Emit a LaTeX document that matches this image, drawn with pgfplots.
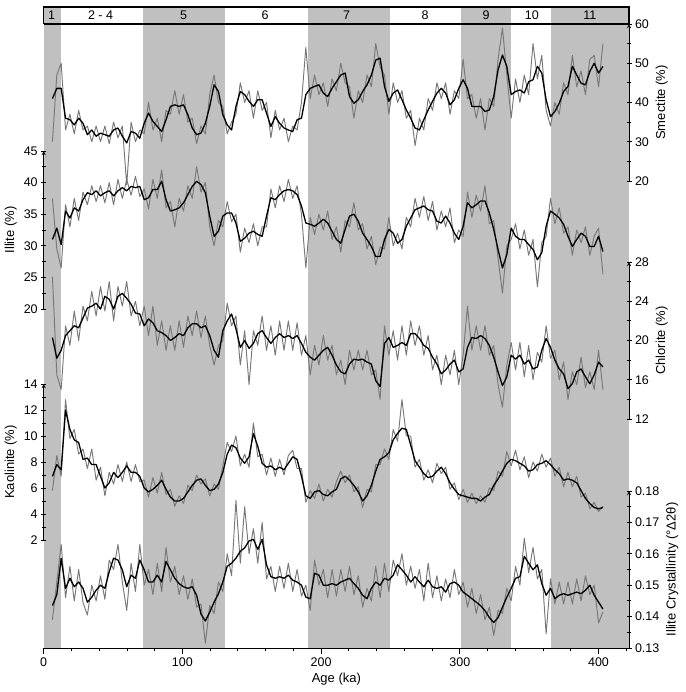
\documentclass[border=0pt]{standalone}
\usepackage{fontspec}
\setmainfont{Liberation Sans}
\usepackage{pgfplots}
\usepackage{pgfplotstable}
\pgfplotsset{compat=1.18}

\definecolor{band}{RGB}{192,192,192}
\definecolor{rawgray}{RGB}{120,120,120}

% age, smectite, illite, chlorite, kaolinite, crystallinity (smoothed + raw)
\pgfplotstableread{
x sm smr il ilr ch chr ka kar cr crr
6.3 41 30 31 37.5 20.3 26.5 6.9 5.8 0.1435 0.139
9.45 43.6 47 32.8 29.5 18.2 16.5 7.8 8.5 0.147 0.151
12.6 43.6 50 30.2 26.5 19 15 7.4 6.9 0.1585 0.163
15.75 36 33 35.5 36.5 20.5 21.5 12 12.8 0.149 0.146
18.9 35.6 37 34.4 33 21 19.5 10.5 9.8 0.1522 0.156
22.05 34.3 32 36 37.5 21.5 23 9.7 10.5 0.1495 0.145
25.2 36 38 35.5 34 21.3 20 9.5 8.6 0.151 0.155
28.35 34.7 33 37.3 38.5 22.3 23.5 8.2 9 0.149 0.1445
31.5 31.8 34 38.4 36.5 23.3 22 8.3 7.5 0.1446 0.1405
34.65 33 30 38.1 39.5 23.5 25 7.8 9 0.1462 0.150
37.8 31.4 34 38.7 37 23.8 22.5 7.8 6.6 0.1484 0.145
40.95 32.2 30 37.9 39.5 23.2 25.5 6.9 7.6 0.15 0.153
44.1 31.8 34 38.4 36.8 24.5 23 6.0 5.4 0.149 0.1455
47.25 31.4 29.5 38.7 40 24.2 26 6.4 7.2 0.1543 0.158
50.4 33 35 37.9 36.5 23.2 22 7.2 6.3 0.1586 0.155
53.55 33.5 31 38.7 40.5 24.5 25.5 6.8 7.8 0.158 0.163
56.7 31.4 34 39.2 37.5 24.8 23.5 7.2 6.5 0.1549 0.151
59.85 29.7 19 38.7 40.5 24.3 26 7.7 8 0.1495 0.142
63.0 32.6 35 39.4 38 23.7 22.5 7.2 6.5 0.1532 0.157
66.15 32.2 30 39.2 41 22.8 24 7.2 7.8 0.1522 0.148
69.3 30.9 33 39.4 37.8 22.7 21.5 6.9 6.5 0.158 0.163
72.45 34.7 32 37.3 39 21.5 23.5 6.0 6.6 0.1549 0.150
75.6 37.3 40 37.6 35.8 22.2 20.5 5.7 5.3 0.151 0.155
78.75 35.2 33 38.9 40.5 21.8 23.5 5.9 6.8 0.151 0.147
81.9 33.9 36 38.9 37.5 21 19.5 6.2 5.6 0.1532 0.157
85.05 32.6 30 40.2 42 20.8 22 6.6 7.2 0.151 0.148
88.2 35.6 38 37.3 36 20.5 19 5.9 5.5 0.1576 0.162
91.35 39 37 35.5 37 20 21.5 5.3 5.9 0.1549 0.151
94.5 39.4 43 35.7 33 20.3 19 5.0 4.6 0.1522 0.156
97.65 39 37 36 37.5 20.7 22 5.0 5.4 0.1505 0.147
100.8 39.4 42 36.8 35.5 20.5 19.3 5.2 4.8 0.1495 0.153
103.95 36.9 35 38.1 39.5 21.3 22.5 5.7 6.2 0.149 0.1455
107.1 33.5 36 39.4 37.5 21.7 20.5 6.2 5.8 0.1495 0.152
110.25 31.8 29.5 40.2 42.5 21.7 23 6.6 7 0.1468 0.143
113.4 32.2 34 39.7 38.5 21.3 20.3 6.7 6.3 0.1408 0.144
116.55 34.7 32 38.4 40 21.5 22.5 6.2 6.7 0.1386 0.1315
119.7 39 42 34.7 33 20.5 19.5 5.8 5.4 0.1414 0.1435
122.85 44.5 47 31.5 30 19 17.5 5.9 6.3 0.1446 0.141
126.0 42.8 40 32.3 34 18.3 19.5 6.3 5.9 0.1473 0.151
129.15 36.9 39 34.7 33 21 20 7.2 7.7 0.151 0.148
132.3 34.3 32 35.2 37 22 23.8 8.6 9.5 0.156 0.160
135.45 33 35 35.2 33.8 22.7 21.5 9.3 8.8 0.157 0.153
138.6 39 37 33.6 35 21.2 22.5 9.1 10 0.1586 0.177
141.75 42.8 45 30.7 29 19.3 17.5 8.3 7.7 0.1608 0.157
144.9 42 40 31.2 32.8 20 21 7.9 8.6 0.1619 0.175
148.05 40.3 43 32 30.5 19.2 15.5 8.4 7.6 0.1641 0.160
151.2 39 36 32.3 33.5 19.7 21 10.2 11 0.1646 0.168
154.35 40.7 43 31.8 30 20.7 19.5 9.2 8.4 0.1614 0.157
157.5 40.7 38 31.5 33 21 22.5 7.9 8.6 0.1646 0.170
160.65 37.3 40 34.7 33 20.3 19 7.6 7 0.1565 0.152
163.8 33.9 31 37.6 39 19.7 21.5 7.7 8.3 0.1527 0.156
166.95 36.4 38 37.3 36 20.3 18.5 7.4 6.9 0.1522 0.148
170.1 34.7 33 38.1 39.5 20.7 22 7.6 8.2 0.1527 0.156
173.25 33.5 36 38.7 37 20.3 19 7.4 7 0.1522 0.149
176.4 33 30 38.9 40.5 20.5 22 7.9 8.5 0.1532 0.157
179.55 32.6 34 38.7 37.5 20.2 19 8.4 8.9 0.1516 0.148
182.7 35.6 33 38.1 39.5 20.5 21.8 8.2 7.5 0.151 0.155
185.85 36 40 36.3 35 19.7 18.5 6.9 7.5 0.15 0.1465
189.0 42 54 33.6 26.5 18.8 20.5 5.4 4.9 0.1462 0.150
192.15 43.6 41 33.4 34.5 18.3 16.5 5.2 5.8 0.1457 0.142
195.3 44.1 47 33.1 31.8 18 19.5 5.7 5.2 0.1538 0.158
198.45 44.5 42 33.6 35 18.5 17.5 5.8 6.3 0.1532 0.150
201.6 42.4 45 34.2 32.5 19 20.5 5.5 5 0.15 0.155
204.75 41.5 39 33.6 35.5 19.3 18 5.4 5.9 0.15 0.146
207.9 43.6 46 32.3 31 18.5 19.5 5.7 5.3 0.1505 0.155
211.05 45.3 43 31 33 17.5 16.5 5.9 6.5 0.15 0.1465
214.2 47 50 30.4 29 16.8 18 6.7 7.3 0.151 0.155
217.35 47.5 45 32.6 34 16.6 15.5 6.9 6.4 0.1516 0.148
220.5 41.5 44 34.7 33 17.6 19 6.6 7 0.1522 0.156
223.65 39.8 36 35 36.8 18.1 17 6.2 5.7 0.1505 0.147
226.8 40.7 43 33.9 32.5 18 19 5.7 6.1 0.149 0.153
229.95 42.8 40 32 33.5 18.1 17 5.0 4.5 0.1468 0.143
233.1 44.5 47 31 29.5 17.8 19 5.4 5.9 0.1457 0.149
236.25 47 44 29.9 31.5 17.6 16.5 6.2 5.7 0.149 0.145
239.4 50.8 55 28.3 27 15.9 17 7.3 7.8 0.151 0.156
242.55 51.3 49 28.3 29.8 15.3 14 8.2 7.8 0.15 0.146
245.7 44.1 47 31 29.5 19.7 21.5 8.4 9 0.1522 0.157
248.85 40.3 37 32.6 34.5 20.3 18.5 8.7 8.2 0.1516 0.148
252.0 42.4 45 32 30 19.3 21 9.7 10.5 0.1532 0.158
255.15 43.2 40 30.4 32 19.5 18 10.2 9.6 0.1565 0.153
258.3 40.7 43 31 29.5 19.8 21.5 10.6 12.8 0.1549 0.160
261.45 38.1 36 33.1 34.5 19.5 18.5 10.5 10 0.1532 0.150
264.6 36 38 34.4 33 20.7 22 9.3 10 0.151 0.156
267.75 33.5 29 35.7 37.5 20.7 19.5 8.1 7.6 0.1527 0.149
270.9 33 36 36 34.5 20.2 21.5 7.6 8.2 0.151 0.155
274.05 35.6 33 36.3 37.8 19.5 18.5 7.1 6.6 0.1495 0.145
277.2 38.1 41 35.7 34 19.2 20.5 6.8 7.4 0.1516 0.157
280.35 40.3 38 35.5 37 18.3 17 6.9 6.4 0.1495 0.146
283.5 42.4 45 33.9 32.5 17.6 18.5 7.3 7.9 0.149 0.153
286.65 43.6 41 33.6 35.5 16.6 15.5 7.6 7.1 0.1495 0.145
289.8 42.4 45 34.7 33 17 18.5 7.1 7.6 0.1478 0.152
292.95 39.4 37 33.6 36 17.6 16.5 6.4 5.9 0.1505 0.146
296.1 40.7 43 32 30.5 18 19 5.9 6.4 0.151 0.155
299.25 43.6 41 31 32.5 16.8 15.5 5.5 5.1 0.15 0.147
302.4 45.8 51 33.1 31.5 17.1 18.5 5.4 5.9 0.1478 0.151
305.55 43.6 41 36.8 38.5 19.3 23.5 5.3 4.9 0.1468 0.143
308.7 39 42 36 34.5 20.3 19 5.2 5.6 0.1457 0.149
311.85 39 36 36.5 38 20.2 21.5 5.2 4.8 0.1446 0.141
315.0 39 41 37.1 35.5 20.5 19 5.0 5.4 0.1435 0.147
318.15 37.7 33 37.1 39.5 20.2 21.5 5.3 4.9 0.1419 0.139
321.3 38.1 41 35.2 33.5 19.5 18.5 5.5 6 0.1397 0.143
324.45 41.5 39 32.6 34 18.3 19.5 6.2 5.8 0.1381 0.134
327.6 48.3 51 29.4 28 16.8 15.5 6.7 7.3 0.1397 0.142
330.75 52.1 59 26.5 22.5 15.4 13.2 7.3 6.9 0.143 0.141
333.9 49.2 47 28.6 30 16.3 17.5 7.9 8.8 0.1462 0.149
337.05 42 36 32.8 31 18.5 19.8 8.2 7.7 0.149 0.145
340.2 42.8 46 31.5 33.5 18.1 17 8.1 8.9 0.1522 0.156
343.35 43.2 40 31 29.5 18.5 19.8 7.9 7.4 0.1527 0.150
346.5 42.4 47 31 32.5 17.6 16.3 7.7 8.4 0.1592 0.165
349.65 45.3 42 30.2 28.5 18 19.5 7.3 6.8 0.157 0.154
352.8 45.8 55 29.4 31 17.1 16 7.4 8 0.1549 0.162
355.95 49.2 46 27.8 23.5 17.3 18.8 7.8 7.3 0.1565 0.152
359.1 47.5 52 28.9 30.5 19 17.8 7.9 8.6 0.1505 0.155
362.25 40.7 38 33.1 31.5 20.2 21.5 8.1 7.6 0.1468 0.1345
365.4 36.4 34 35.5 37.5 19.3 18.2 7.8 8.3 0.149 0.152
368.55 37.7 40 35 33.5 18 19 7.4 6.9 0.1457 0.144
371.7 39.8 37 34.4 36 17.1 16 7.1 7.6 0.1468 0.151
374.85 42.8 45 33.4 32 16.6 17.8 6.6 6.1 0.1473 0.144
378.0 44.1 42 31.5 33 15.1 14 6.7 7.2 0.1468 0.151
381.15 49.2 52 29.9 28.5 15.6 16.8 6.6 6.1 0.1473 0.144
384.3 47 44 31 32.5 16.8 15.5 6.4 6.9 0.1478 0.152
387.45 44.9 48 32 30.5 17.1 18.3 5.8 5.3 0.1473 0.145
390.6 44.5 42 31.5 33 16.3 15.2 5.2 5.6 0.1484 0.153
393.75 47.9 51 29.9 28.5 15.6 16.8 4.8 4.4 0.15 0.147
396.9 50 52 29.9 31.5 16.5 15 4.5 4.9 0.1468 0.150
400.05 47.5 44 31.5 32.8 17.8 19 4.4 4.2 0.1446 0.138
403.2 49.2 55 29.1 25.5 17.3 15 4.5 4.6 0.1424 0.1415
}\clay

\pgfplotsset{
  panel/.style={
    scale only axis, width=585.3pt,
    xmin=0, xmax=422, enlargelimits=false,
    axis x line=none, clip=false,
    axis line style={-, line width=0.9pt},
    tick style={black, line width=0.8pt},
    tick align=outside,
    major tick length=5pt, minor tick length=4pt,
    minor y tick num=1,
    ticklabel style={font=\fontsize{12.5}{14}\selectfont},
    /pgf/number format/assume math mode=true,
  },
  lbl/.style={ylabel style={font=\fontsize{13}{15}\selectfont}},
  rawline/.style={rawgray, line width=0.95pt, line join=round},
  meanline/.style={black, line width=1.3pt, line join=round},
}

\begin{document}
\begin{tikzpicture}
\useasboundingbox (0,0) rectangle (685pt,692pt);

% shading of the stages, top box and age axis
\begin{axis}[
  at={(43.7pt,44pt)}, anchor=south west,
  scale only axis, width=585.3pt, height=641pt,
  xmin=0, xmax=422, ymin=0, ymax=641, enlargelimits=false,
  axis y line=none, axis x line=bottom, clip=false,
  axis line style={-, line width=0.9pt},
  tick style={black, line width=0.8pt}, tick align=outside,
  xtick={0,100,200,300,400},
  minor xtick={20,40,60,80,120,140,160,180,220,240,260,280,320,340,360,380,420},
  major tick length=6pt, minor tick length=3.5pt,
  ticklabel style={font=\fontsize{12.5}{14}\selectfont},
  xlabel={Age (ka)}, xlabel style={font=\fontsize{13}{15}\selectfont},
  /pgf/number format/assume math mode=true,
]
\addplot[fill=band, draw=none] coordinates {(0,641) (12.5,641)} \closedcycle;
\addplot[fill=band, draw=none] coordinates {(71.5,641) (130.5,641)} \closedcycle;
\addplot[fill=band, draw=none] coordinates {(190.5,641) (249.5,641)} \closedcycle;
\addplot[fill=band, draw=none] coordinates {(301,641) (337,641)} \closedcycle;
\addplot[fill=band, draw=none] coordinates {(366,641) (422,641)} \closedcycle;
\addplot[black, line width=1.2pt] coordinates {(0,624) (422,624) (422,641) (0,641) (0,624)};
\begin{scope}[font=\fontsize{12.5}{14}\selectfont]
\node at (axis cs:5.7,632.5) {1};
\node at (axis cs:41,632.5) {2 - 4};
\node at (axis cs:100.8,632.5) {5};
\node at (axis cs:159.7,632.5) {6};
\node at (axis cs:218.3,632.5) {7};
\node at (axis cs:275,632.5) {8};
\node at (axis cs:319,632.5) {9};
\node at (axis cs:352,632.5) {10};
\node at (axis cs:393.7,632.5) {11};
\end{scope}
\end{axis}

% smectite
\begin{axis}[panel, at={(43.7pt,511pt)}, anchor=south west, height=157pt,
  ymin=20, ymax=60, ytick={20,30,40,50,60},
  axis y line=right, ylabel={Smectite (\%)}, lbl]
\addplot[rawline] table[x=x,y=smr]{\clay};
\addplot[meanline] table[x=x,y=sm]{\clay};
\end{axis}

% illite
\begin{axis}[panel, at={(43.7pt,383pt)}, anchor=south west, height=158pt,
  ymin=20, ymax=45, ytick={20,25,30,35,40,45},
  axis y line=left, ylabel={Illite (\%)}, lbl]
\addplot[rawline] table[x=x,y=ilr]{\clay};
\addplot[meanline] table[x=x,y=il]{\clay};
\end{axis}

% chlorite
\begin{axis}[panel, at={(43.7pt,273pt)}, anchor=south west, height=157pt,
  ymin=12, ymax=28, ytick={12,16,20,24,28},
  axis y line=right, ylabel={Chlorite (\%)}, lbl]
\addplot[rawline] table[x=x,y=chr]{\clay};
\addplot[meanline] table[x=x,y=ch]{\clay};
\end{axis}

% kaolinite
\begin{axis}[panel, at={(43.7pt,152pt)}, anchor=south west, height=156pt,
  ymin=2, ymax=14, ytick={2,4,6,8,10,12,14},
  axis y line=left, ylabel={Kaolinite (\%)}, lbl]
\addplot[rawline] table[x=x,y=kar]{\clay};
\addplot[meanline] table[x=x,y=ka]{\clay};
\end{axis}

% illite crystallinity
\begin{axis}[panel, at={(43.7pt,44pt)}, anchor=south west, height=157pt,
  ymin=0.13, ymax=0.18, ytick={0.13,0.14,0.15,0.16,0.17,0.18},
  yticklabel style={/pgf/number format/.cd, fixed, fixed zerofill, precision=2},
  axis y line=right, ylabel={Illite Crystallinity (°Δ2θ)}, lbl]
\addplot[rawline] table[x=x,y=crr]{\clay};
\addplot[meanline] table[x=x,y=cr]{\clay};
\end{axis}
\end{tikzpicture}
\end{document}
